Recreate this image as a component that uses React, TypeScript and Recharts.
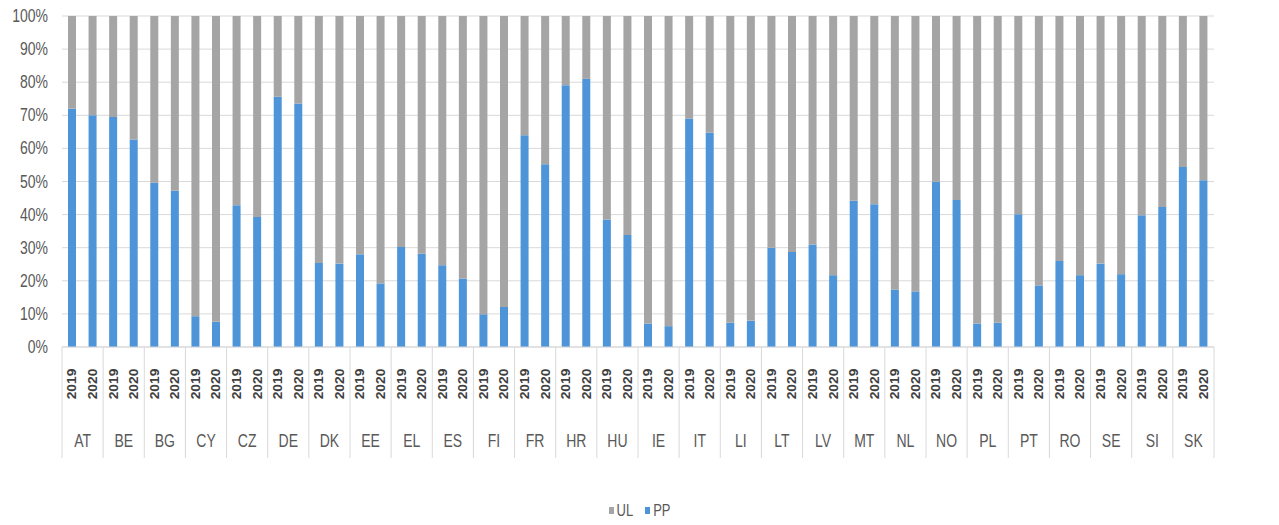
import { BarChart, Bar, XAxis, YAxis, CartesianGrid, Legend } from 'recharts';

const countries = [
  'AT', 'BE', 'BG', 'CY', 'CZ', 'DE', 'DK', 'EE', 'EL', 'ES', 'FI', 'FR', 'HR', 'HU',
  'IE', 'IT', 'LI', 'LT', 'LV', 'MT', 'NL', 'NO', 'PL', 'PT', 'RO', 'SE', 'SI', 'SK',
];
const years = ['2019', '2020'];

// PP share (%) per country; UL is the remainder up to 100%
const pp2019 = [
  72, 69.5, 49.6, 9.3, 42.8, 75.6, 25.4, 28, 30.2, 24.7, 9.9, 64, 79.1, 38.5,
  7.1, 69, 7.3, 30, 31, 44.2, 17.3, 49.9, 7.1, 40.1, 26, 25.2, 39.8, 54.4,
];
const pp2020 = [
  70, 62.7, 47.2, 7.6, 39.3, 73.6, 25.2, 19.2, 28.2, 20.7, 12.1, 55.2, 81, 33.8,
  6.3, 64.7, 7.9, 28.7, 21.7, 43.1, 16.8, 44.4, 7.3, 18.6, 21.7, 22, 42.3, 50.4,
];
const yTicks = [0, 10, 20, 30, 40, 50, 60, 70, 80, 90, 100];

const WIDTH = 1279;
const HEIGHT = 525;
const LEFT_AXIS_W = 62;
const RIGHT_AXIS_W = 65;
const PLOT_W = WIDTH - LEFT_AXIS_W - RIGHT_AXIS_W;

const UL_COLOR = '#a5a5a5';
const PP_COLOR = '#4d94d9';
const GRID = '#d9d9d9';
const TEXT = '#595959';

const rows = countries.flatMap((country, i) =>
  years.map((year, j) => {
    const pp = j === 0 ? pp2019[i] : pp2020[i];
    return { key: `${country} ${year}`, country, year, PP: pp, UL: 100 - pp };
  })
);

const BAND = PLOT_W / rows.length;

function PercentTick({ x, y, payload, anchor }: any) {
  return (
    <text
      transform={`translate(${x},${y}) scale(1,1.25)`}
      textAnchor={anchor}
      dominantBaseline="central"
      fontSize={14}
      fill={TEXT}
    >
      {`${payload.value}%`}
    </text>
  );
}

function CategoryTick({ x, y, index }: any) {
  const row = rows[index];
  if (!row) return null;
  const first = index % 2 === 0;
  const last = index === rows.length - 1;
  return (
    <g>
      <text
        transform={`translate(${x},${y + 37}) rotate(-90) scale(1.15,1)`}
        textAnchor="middle"
        dominantBaseline="central"
        fontSize={12}
        fontWeight="bold"
        fill="#404040"
      >
        {row.year}
      </text>
      {first && (
        <>
          <line x1={x - BAND / 2} x2={x - BAND / 2} y1={y} y2={y + 111} stroke={GRID} />
          <text
            transform={`translate(${x + BAND / 2},${y + 93}) scale(1,1.3)`}
            textAnchor="middle"
            dominantBaseline="central"
            fontSize={14}
            fill={TEXT}
          >
            {row.country}
          </text>
        </>
      )}
      {last && <line x1={x + BAND / 2} x2={x + BAND / 2} y1={y} y2={y + 111} stroke={GRID} />}
    </g>
  );
}

function LegendContent({ payload }: any) {
  // UL listed first, as in the stacked order top-down
  const items = [...(payload || [])].reverse();
  return (
    <div style={{ display: 'flex', justifyContent: 'center', gap: 12 }}>
      {items.map((item: any) => (
        <div key={item.value} style={{ display: 'flex', alignItems: 'center', gap: 3 }}>
          <span style={{ width: 5, height: 7, background: item.color, display: 'inline-block' }} />
          <span style={{ fontSize: 13, color: TEXT, display: 'inline-block', transform: 'scaleY(1.2)' }}>
            {item.value}
          </span>
        </div>
      ))}
    </div>
  );
}

export default function App() {
  return (
    <div style={{ position: 'absolute', left: 0, top: 0, background: '#fff' }}>
      <BarChart
        width={WIDTH}
        height={HEIGHT}
        data={rows}
        margin={{ top: 16, right: 0, bottom: 0, left: 0 }}
        barSize={8}
        style={{ fontFamily: '"Liberation Sans", Arial, sans-serif' }}
      >
        <CartesianGrid yAxisId="left" vertical={false} stroke={GRID} />
        <XAxis
          dataKey="key"
          interval={0}
          height={178}
          tickLine={false}
          tickSize={0}
          tickMargin={0}
          axisLine={{ stroke: GRID }}
          tick={<CategoryTick />}
        />
        <YAxis
          yAxisId="left"
          width={LEFT_AXIS_W}
          domain={[0, 100]}
          ticks={yTicks}
          axisLine={false}
          tickLine={false}
          tickSize={0}
          tickMargin={14}
          tick={<PercentTick anchor="end" />}
        />
        <YAxis
          yAxisId="right"
          orientation="right"
          width={RIGHT_AXIS_W}
          domain={[0, 100]}
          ticks={yTicks}
          axisLine={false}
          tickLine={false}
          tickSize={0}
          tickMargin={16}
          tick={<PercentTick anchor="start" />}
        />
        <Legend
          verticalAlign="middle"
          align="center"
          layout="horizontal"
          wrapperStyle={{ top: 503, left: 0, width: WIDTH }}
          content={<LegendContent />}
        />
        <Bar yAxisId="left" dataKey="PP" stackId="a" fill={PP_COLOR} isAnimationActive={false} />
        <Bar yAxisId="left" dataKey="UL" stackId="a" fill={UL_COLOR} isAnimationActive={false} />
      </BarChart>
    </div>
  );
}
